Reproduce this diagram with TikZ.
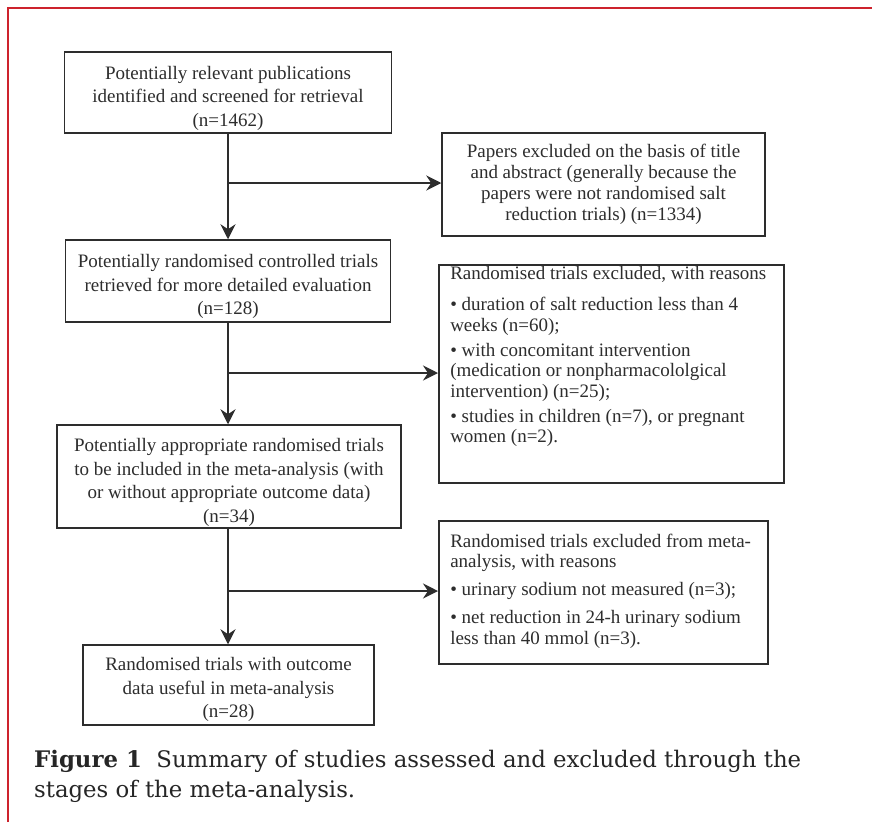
\documentclass[tikz,border=0pt]{standalone}
\usepackage{fontspec}
\setmainfont{Liberation Serif}
\newfontfamily\capfont{DejaVu Serif}
\usetikzlibrary{arrows.meta}
\definecolor{frame}{RGB}{205,35,45}
\definecolor{ink}{RGB}{45,45,45}
\newcommand\lowstrut{\rule{0pt}{25pt}}
\begin{document}
\begin{tikzpicture}[x=1pt,y=-1pt,
  mainbox/.style={draw=ink, line width=1.5pt, inner sep=0pt, text=ink,
    font=\fontsize{19}{23.5}\selectfont, align=center},
  sidebox/.style={draw=ink, line width=1.5pt, inner sep=0pt, text=ink,
    font=\fontsize{19}{21}\selectfont, align=center},
  exbox/.style={draw=ink, line width=1.5pt, inner xsep=11.5pt, inner ysep=0pt,
    text=ink, font=\fontsize{19}{20.5}\selectfont},
  conn/.style={draw=ink, line width=1.5pt},
  arr/.style={conn, -{Stealth[length=15pt,width=15pt,inset=5pt]}}]
\fill[white] (0,0) rectangle (872,822);
\useasboundingbox (0,0) rectangle (872,822);
\draw[frame, line width=2.5pt] (8,822) -- (8,8) -- (872,8);

\node[mainbox, minimum width=327pt, minimum height=81pt] (b1) at (228,92.5)
  {\lowstrut Potentially relevant publications\\identified and screened for retrieval\\(n=1462)};
\node[sidebox, minimum width=323pt, minimum height=103pt] (b2) at (603.5,184.5)
  {Papers excluded on the basis of title\\and abstract (generally because the\\papers were not randomised salt\\reduction trials) (n=1334)};
\node[mainbox, minimum width=325pt, minimum height=82pt] (b3) at (228,281)
  {\lowstrut Potentially randomised controlled trials\\retrieved for more detailed evaluation\\(n=128)};
\node[exbox, anchor=north west] (b4) at (438,264)
  {\parbox[c][218pt][t]{322pt}{\raggedright\vspace*{2pt}%
  Randomised trials excluded, with reasons\\[10.5pt]
  • duration of salt reduction less than 4\\
  weeks (n=60);\\[4.5pt]
  • with concomitant intervention\\
  (medication or nonpharmacololgical\\
  intervention) (n=25);\\[4.5pt]
  • studies in children (n=7), or pregnant\\
  women (n=2).}};
\node[mainbox, minimum width=344pt, minimum height=103pt] (b5) at (229,476.5)
  {\lowstrut Potentially appropriate randomised trials\\to be included in the meta-analysis (with\\or without appropriate outcome data)\\(n=34)};
\node[exbox, anchor=north west] (b6) at (438,520)
  {\parbox[c][143pt][t]{306pt}{\raggedright\vspace*{13pt}%
  Randomised trials excluded from meta-\\
  analysis, with reasons\\[7.5pt]
  • urinary sodium not measured (n=3);\\[7.5pt]
  • net reduction in 24-h urinary sodium\\
  less than 40 mmol (n=3).}};
\node[mainbox, minimum width=291pt, minimum height=80pt] (b7) at (228.5,685)
  {\rule{0pt}{23pt}Randomised trials with outcome\\data useful in meta-analysis\\(n=28)};

\coordinate (j1) at (228,183);
\coordinate (j2) at (228,373);
\coordinate (j3) at (228,591);
\draw[arr] (b1.south) -- (b3.north);
\draw[arr] (j1) -- (j1 -| b2.west);
\draw[arr] (b3.south) -- (b5.north -| b3.south);
\draw[arr] (j2) -- (j2 -| b4.west);
\draw[arr] (b5.south -| b3.south) -- (b7.north -| b3.south);
\draw[arr] (j3) -- (j3 -| b6.west);

\node[anchor=north west, inner sep=0pt, align=left, text=black!85,
  font=\capfont\fontsize{22.8}{30}\selectfont] (cap) at (34,750)
  {\textbf{Figure 1}\ \ Summary of studies assessed and excluded through the\\
  stages of the meta-analysis.};
\end{tikzpicture}
\end{document}
